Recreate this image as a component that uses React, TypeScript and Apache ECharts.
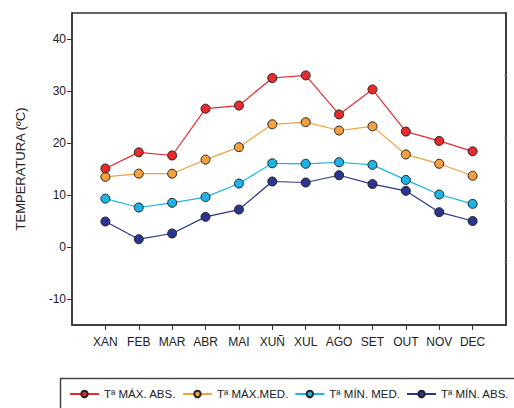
import React, { useEffect, useRef } from "react";
import * as echarts from "echarts";

const categories = ["XAN", "FEB", "MAR", "ABR", "MAI", "XUÑ", "XUL", "AGO", "SET", "OUT", "NOV", "DEC"];
const seriesNames = ["Tª MÁX. ABS.", "Tª MÁX.MED.", "Tª MÍN. MED.", "Tª MÍN. ABS."];
const maxAbs = [15.1, 18.2, 17.6, 26.6, 27.2, 32.5, 33.0, 25.5, 30.3, 22.2, 20.4, 18.4];
const maxMed = [13.5, 14.1, 14.1, 16.8, 19.2, 23.6, 24.0, 22.4, 23.2, 17.8, 16.0, 13.7];
const minMed = [9.3, 7.6, 8.5, 9.6, 12.2, 16.1, 16.0, 16.3, 15.8, 12.9, 10.1, 8.3];
const minAbs = [4.9, 1.5, 2.6, 5.8, 7.2, 12.6, 12.4, 13.8, 12.1, 10.8, 6.7, 5.0];
const yTicks = [-10, 0, 10, 20, 30, 40];
const colors = ["#e62a2d", "#f5a03e", "#1cb3e6", "#2b3590"];

export default function App() {
  const ref = useRef<HTMLDivElement>(null);
  useEffect(() => {
    if (!ref.current) return;
    const chart = echarts.init(ref.current, null, { renderer: "svg" });
    const values = [maxAbs, maxMed, minMed, minAbs];
    const xPositions = categories.map((_, i) => i + 1);
    const font = "'Liberation Sans', Arial, sans-serif";
    chart.setOption({
      animation: false,
      textStyle: { fontFamily: font },
      grid: {
        left: 72,
        top: 13,
        right: 8,
        bottom: 83,
        show: true,
        borderColor: "#333",
        borderWidth: 1.5,
      },
      legend: {
        left: 64,
        top: 383,
        width: 450,
        itemWidth: 29,
        itemHeight: 8,
        itemGap: 6,
        textStyle: { fontSize: 11.5, color: "#222", fontFamily: font },
        data: seriesNames,
      },
      graphic: [
        {
          type: "rect",
          shape: { x: 60.5, y: 378.5, width: 470, height: 40 },
          style: { fill: "none", stroke: "#444", lineWidth: 1.5 },
          silent: true,
        },
      ],
      xAxis: {
        type: "value",
        min: 0,
        max: categories.length + 1,
        interval: 1,
        splitLine: { show: false },
        axisLine: { show: true, onZero: false, lineStyle: { color: "#333", width: 1.5 } },
        axisTick: {
          show: true,
          length: 5,
          lineStyle: { color: "#333" },
          customValues: xPositions,
        },
        axisLabel: {
          customValues: xPositions,
          formatter: (v: number) => categories[Math.round(v) - 1] ?? "",
          fontSize: 12,
          color: "#222",
          margin: 11,
          fontFamily: font,
        },
      },
      yAxis: [
        {
          type: "value",
          min: -15,
          max: 45,
          interval: 5,
          name: "TEMPERATURA (ºC)",
          nameLocation: "middle",
          nameGap: 45,
          nameRotate: 90,
          nameTextStyle: { fontSize: 13, color: "#222", fontFamily: font },
          splitLine: { show: false },
          axisLine: { show: true, onZero: false, lineStyle: { color: "#333", width: 1.5 } },
          axisTick: {
            show: true,
            length: 5,
            lineStyle: { color: "#333" },
            customValues: yTicks,
          },
          axisLabel: {
            customValues: yTicks,
            fontSize: 12,
            color: "#222",
            margin: 6,
            fontFamily: font,
          },
        },
        {
          type: "value",
          position: "right",
          min: 0,
          max: 5,
          interval: 1,
          splitLine: { show: false },
          axisLine: { show: true, onZero: false, lineStyle: { color: "#333", width: 1.5 } },
          axisTick: {
            show: true,
            inside: true,
            length: 2,
            lineStyle: { color: "#999" },
            customValues: [1, 2, 3, 4],
          },
          axisLabel: { show: false },
        },
      ],
      series: values.map((vals, si) => ({
        name: seriesNames[si],
        type: "line",
        yAxisIndex: 0,
        data: vals.map((v, i) => [xPositions[i], v]),
        symbol: "circle",
        symbolSize: 9,
        lineStyle: { color: colors[si], width: 1.2 },
        itemStyle: { color: colors[si], borderColor: "#222", borderWidth: 1 },
        z: 10 - si,
      })),
    });
    return () => chart.dispose();
  }, []);
  return (
    <div
      ref={ref}
      style={{ position: "fixed", left: 0, top: 0, width: 514, height: 408, background: "#fff" }}
    />
  );
}
